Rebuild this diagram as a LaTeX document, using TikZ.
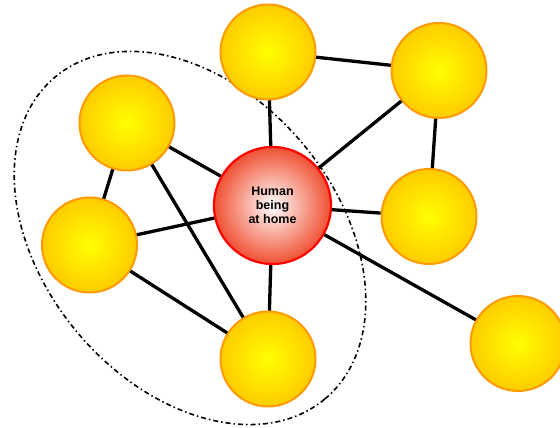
\documentclass[tikz,border=0pt]{standalone}
\usepackage{fontspec}
\setmainfont{Liberation Sans}
\usepackage{xcolor}
\usepackage{tikz}
\definecolor{sunyellow}{RGB}{255,255,0}
\definecolor{sungold}{RGB}{255,204,0}
\definecolor{sunrim}{RGB}{255,153,0}
\definecolor{hubred}{RGB}{240,80,50}

\tikzset{
  contact/.style={circle,minimum size=95pt,inner sep=0pt,line width=2pt,draw=sunrim,
    shading=radial,inner color=sunyellow,outer color=sungold},
  hub/.style={circle,minimum size=117pt,inner sep=0pt,line width=2.2pt,draw=red,
    shading=radial,inner color=white,outer color=hubred,
    font=\bfseries\fontsize{12.5}{14}\selectfont,align=center},
  link/.style={line width=3.3pt,black}
}

\begin{document}
\begin{tikzpicture}[x=1pt,y=1pt]
			\useasboundingbox (0,0) rectangle (560,428);
			
			% the group round the home
			\draw[line width=1.6pt,dash pattern=on 5pt off 3pt on 1.5pt off 3pt,rotate around={-50:(190,190)}]
				(190,190) ellipse (210 and 147);
			
			\node[hub] (home) at (272.5,222.5) {Human\\being\\at home};
			
			\node[contact] (top) at (268,376) {};
			\node[contact] (topright) at (439,357.5) {};
			\node[contact] (right) at (429,211.5) {};
			\node[contact] (farright) at (518,84.5) {};
			\node[contact] (bottom) at (268,69) {};
			\node[contact] (left) at (89.5,183) {};
			\node[contact] (upleft) at (127,305) {};
			
			\draw[link] (top) -- (home);
			\draw[link] (top) -- (topright);
			\draw[link] (topright) -- (home);
			\draw[link] (topright) -- (right);
			\draw[link] (right) -- (home);
			\draw[link] (home) -- (farright);
			\draw[link] (home) -- (bottom);
			\draw[link] (home) -- (left);
			\draw[link] (home) -- (upleft);
			\draw[link] (upleft) -- (left);
			\draw[link] (upleft) -- (bottom);
			\draw[link] (left) -- (bottom);
			
		\end{tikzpicture}
\end{document}
